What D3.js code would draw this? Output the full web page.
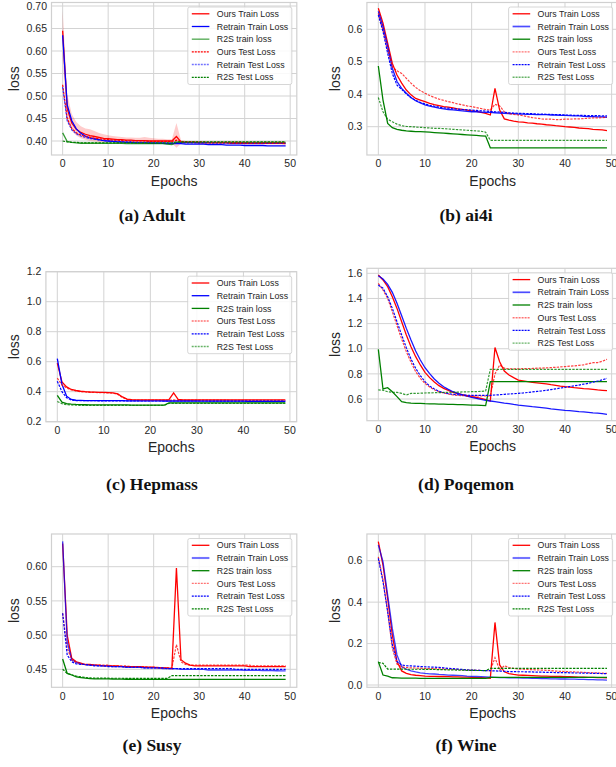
<!DOCTYPE html>
<html lang="en">
<head>
<meta charset="utf-8">
<title>Loss curves</title>
<script src="https://d3js.org/d3.v7.min.js"></script>
<style>
  body { margin: 0; background: #fff; }
  text { font-family: "Liberation Sans", Arial, sans-serif; fill: #262626; }
  .cap { font-family: "Liberation Serif", "Times New Roman", serif; font-weight: bold; fill: #111; }
</style>
</head>
<body>
<script>
// ---- data (epochs 0..49) ----
var epochs = d3.range(0, 50);
var seriesNames = ["Ours Train Loss", "Retrain Train Loss", "R2S train loss", "Ours Test Loss", "Retrain Test Loss", "R2S Test Loss"];
var xTicks = [0, 10, 20, 30, 40, 50];

// (a) Adult
var adultOursTrain = [0.645,0.472,0.440,0.426,0.419,0.415,0.412,0.410,0.408,0.406, 0.405,0.404,0.403,0.403,0.402,0.402,0.401,0.401,0.401,0.400, 0.400,0.400,0.400,0.400,0.400,0.410,0.398,0.397,0.397,0.397, 0.396,0.396,0.396,0.396,0.396,0.396,0.396,0.395,0.395,0.395, 0.395,0.395,0.395,0.395,0.395,0.395,0.395,0.395,0.395,0.394];
var adultRetrainTrain = [0.635,0.480,0.445,0.427,0.417,0.411,0.407,0.405,0.403,0.401, 0.400,0.399,0.398,0.398,0.397,0.397,0.396,0.396,0.396,0.395, 0.395,0.395,0.395,0.394,0.394,0.394,0.394,0.393,0.393,0.393, 0.393,0.393,0.392,0.392,0.392,0.392,0.391,0.391,0.391,0.391, 0.390,0.390,0.390,0.390,0.390,0.389,0.389,0.389,0.389,0.389];
var adultR2STrain = [0.418,0.399,0.397,0.396,0.395,0.395,0.395,0.395,0.395,0.395, 0.395,0.395,0.395,0.395,0.394,0.394,0.394,0.394,0.394,0.394, 0.394,0.394,0.394,0.393,0.392,0.397,0.397,0.397,0.397,0.397, 0.397,0.397,0.397,0.397,0.397,0.397,0.397,0.397,0.397,0.397, 0.397,0.397,0.397,0.397,0.397,0.397,0.397,0.397,0.397,0.397];
var adultOursTest = [0.525,0.450,0.428,0.418,0.413,0.410,0.408,0.406,0.405,0.404, 0.403,0.402,0.402,0.401,0.401,0.400,0.400,0.400,0.400,0.399, 0.399,0.399,0.399,0.399,0.399,0.402,0.399,0.398,0.398,0.398, 0.398,0.398,0.397,0.397,0.397,0.397,0.397,0.397,0.397,0.397, 0.396,0.396,0.396,0.396,0.396,0.396,0.396,0.396,0.396,0.396];
var adultRetrainTest = [0.520,0.445,0.425,0.416,0.411,0.408,0.405,0.404,0.402,0.401, 0.400,0.399,0.399,0.398,0.398,0.398,0.397,0.397,0.397,0.397, 0.396,0.396,0.396,0.396,0.396,0.396,0.396,0.396,0.396,0.396, 0.396,0.396,0.396,0.395,0.395,0.395,0.395,0.395,0.395,0.395, 0.395,0.395,0.395,0.395,0.395,0.395,0.395,0.395,0.395,0.395];
var adultR2STest = [0.400,0.398,0.397,0.397,0.396,0.396,0.396,0.396,0.396,0.396, 0.396,0.396,0.396,0.396,0.396,0.396,0.396,0.396,0.396,0.396, 0.396,0.396,0.396,0.396,0.396,0.398,0.398,0.398,0.398,0.398, 0.398,0.398,0.398,0.398,0.398,0.398,0.398,0.398,0.398,0.398, 0.398,0.398,0.398,0.398,0.398,0.398,0.398,0.398,0.398,0.398];
var adultBandHi = [0.690,0.505,0.460,0.442,0.433,0.428,0.426,0.422,0.418,0.415, 0.413,0.411,0.410,0.409,0.408,0.408,0.407,0.407,0.409,0.407, 0.406,0.405,0.405,0.404,0.404,0.440,0.402,0.400,0.400,0.400, 0.399,0.399,0.399,0.399,0.399,0.399,0.399,0.399,0.399,0.399, 0.399,0.399,0.399,0.399,0.399,0.399,0.399,0.399,0.399,0.399];
var adultBandLo = [0.585,0.445,0.423,0.412,0.406,0.403,0.400,0.399,0.398,0.397, 0.397,0.397,0.396,0.396,0.396,0.396,0.395,0.395,0.394,0.394, 0.394,0.394,0.394,0.395,0.395,0.385,0.394,0.394,0.394,0.393, 0.393,0.393,0.393,0.393,0.393,0.393,0.393,0.393,0.393,0.393, 0.392,0.392,0.392,0.392,0.392,0.392,0.392,0.392,0.392,0.392];
var adultTicks = [0.40, 0.45, 0.50, 0.55, 0.60, 0.65, 0.70];

// (b) ai4i
var ai4iOursTrain = [0.665,0.619,0.557,0.495,0.459,0.434,0.413,0.398,0.387,0.382, 0.377,0.372,0.368,0.365,0.362,0.360,0.358,0.355,0.353,0.351, 0.349,0.347,0.344,0.341,0.336,0.418,0.351,0.324,0.320,0.317, 0.315,0.314,0.312,0.311,0.309,0.308,0.306,0.305,0.303,0.302, 0.300,0.299,0.298,0.296,0.295,0.294,0.292,0.291,0.290,0.288];
var ai4iRetrainTrain = [0.655,0.608,0.547,0.480,0.439,0.418,0.403,0.390,0.380,0.373, 0.367,0.363,0.360,0.357,0.355,0.353,0.352,0.350,0.349,0.347, 0.346,0.346,0.345,0.344,0.344,0.343,0.342,0.341,0.340,0.340, 0.339,0.339,0.338,0.338,0.337,0.337,0.337,0.336,0.336,0.335, 0.335,0.334,0.333,0.333,0.332,0.331,0.331,0.330,0.330,0.329];
var ai4iR2STrain = [0.487,0.382,0.310,0.297,0.292,0.289,0.287,0.286,0.285,0.285, 0.284,0.283,0.282,0.281,0.280,0.279,0.278,0.277,0.276,0.275, 0.274,0.273,0.272,0.271,0.235,0.235,0.235,0.235,0.235,0.235, 0.235,0.235,0.235,0.235,0.235,0.235,0.235,0.235,0.235,0.235, 0.235,0.235,0.235,0.235,0.235,0.235,0.235,0.235,0.235,0.235];
var ai4iOursTest = [0.649,0.598,0.536,0.485,0.472,0.464,0.449,0.434,0.421,0.411, 0.403,0.396,0.390,0.385,0.381,0.377,0.374,0.370,0.367,0.364, 0.362,0.359,0.356,0.353,0.351,0.369,0.364,0.346,0.340,0.338, 0.336,0.334,0.331,0.328,0.326,0.324,0.323,0.323,0.322,0.322, 0.323,0.323,0.324,0.324,0.325,0.326,0.327,0.327,0.328,0.329];
var ai4iRetrainTest = [0.644,0.593,0.526,0.464,0.428,0.415,0.401,0.389,0.381,0.375, 0.370,0.366,0.363,0.360,0.358,0.357,0.355,0.354,0.353,0.352, 0.351,0.350,0.349,0.348,0.347,0.346,0.345,0.344,0.343,0.342, 0.341,0.341,0.340,0.340,0.339,0.339,0.338,0.338,0.337,0.337, 0.336,0.336,0.335,0.335,0.335,0.334,0.334,0.334,0.333,0.333];
var ai4iR2STest = [0.390,0.346,0.323,0.315,0.308,0.303,0.301,0.300,0.299,0.298, 0.297,0.296,0.295,0.295,0.294,0.293,0.292,0.291,0.290,0.289, 0.288,0.287,0.286,0.283,0.258,0.258,0.258,0.258,0.258,0.258, 0.258,0.258,0.258,0.258,0.258,0.258,0.258,0.258,0.258,0.258, 0.258,0.258,0.258,0.258,0.258,0.258,0.258,0.258,0.258,0.258];
var ai4iTicks = [0.3, 0.4, 0.5, 0.6];

// (c) Hepmass
var hepOursTrain = [0.590,0.465,0.432,0.415,0.408,0.403,0.400,0.398,0.397,0.396, 0.395,0.394,0.392,0.385,0.365,0.350,0.347,0.346,0.346,0.346, 0.346,0.346,0.346,0.346,0.347,0.392,0.348,0.346,0.346,0.346, 0.346,0.346,0.346,0.345,0.345,0.345,0.345,0.345,0.345,0.345, 0.345,0.345,0.345,0.345,0.345,0.345,0.345,0.345,0.345,0.345];
var hepRetrainTrain = [0.620,0.450,0.370,0.348,0.343,0.342,0.341,0.341,0.340,0.340, 0.340,0.340,0.340,0.340,0.340,0.339,0.339,0.339,0.339,0.339, 0.339,0.339,0.339,0.338,0.338,0.338,0.338,0.338,0.338,0.338, 0.338,0.337,0.337,0.337,0.337,0.337,0.337,0.337,0.337,0.337, 0.337,0.336,0.336,0.336,0.336,0.336,0.336,0.336,0.336,0.336];
var hepR2STrain = [0.375,0.330,0.320,0.317,0.315,0.314,0.313,0.312,0.312,0.312, 0.312,0.312,0.312,0.312,0.312,0.312,0.311,0.311,0.311,0.311, 0.311,0.311,0.311,0.311,0.325,0.326,0.326,0.326,0.326,0.326, 0.326,0.326,0.326,0.326,0.326,0.326,0.326,0.326,0.326,0.326, 0.326,0.326,0.326,0.326,0.326,0.326,0.326,0.326,0.326,0.326];
var hepOursTest = [0.490,0.445,0.425,0.412,0.405,0.400,0.398,0.396,0.395,0.394, 0.393,0.392,0.390,0.382,0.362,0.348,0.345,0.344,0.344,0.344, 0.344,0.344,0.344,0.344,0.344,0.345,0.344,0.344,0.344,0.344, 0.344,0.344,0.344,0.344,0.344,0.344,0.344,0.343,0.343,0.343, 0.343,0.343,0.343,0.343,0.343,0.343,0.343,0.343,0.343,0.343];
var hepRetrainTest = [0.470,0.400,0.360,0.345,0.341,0.340,0.340,0.340,0.340,0.339, 0.339,0.339,0.339,0.339,0.339,0.339,0.339,0.339,0.338,0.338, 0.338,0.338,0.338,0.338,0.338,0.338,0.338,0.338,0.338,0.338, 0.338,0.338,0.338,0.337,0.337,0.337,0.337,0.337,0.337,0.337, 0.337,0.337,0.337,0.337,0.337,0.337,0.337,0.337,0.337,0.337];
var hepR2STest = [0.335,0.320,0.314,0.312,0.310,0.309,0.309,0.309,0.309,0.309, 0.309,0.309,0.309,0.309,0.309,0.309,0.309,0.309,0.309,0.309, 0.309,0.309,0.309,0.309,0.322,0.322,0.322,0.322,0.322,0.322, 0.322,0.322,0.322,0.322,0.322,0.322,0.322,0.322,0.322,0.322, 0.322,0.322,0.322,0.322,0.322,0.322,0.322,0.322,0.322,0.322];
var hepTicks = [0.2, 0.4, 0.6, 0.8, 1.0, 1.2];

// (d) Poqemon
var poqOursTrain = [1.587,1.547,1.494,1.414,1.321,1.215,1.109,1.016,0.937,0.871, 0.812,0.770,0.735,0.706,0.685,0.669,0.653,0.642,0.634,0.626, 0.619,0.612,0.605,0.595,0.584,1.010,0.897,0.823,0.791,0.770, 0.751,0.745,0.738,0.733,0.729,0.725,0.720,0.714,0.709,0.703, 0.698,0.694,0.690,0.687,0.683,0.680,0.676,0.672,0.669,0.666];
var poqRetrainTrain = [1.581,1.555,1.512,1.449,1.361,1.263,1.162,1.069,0.982,0.910, 0.849,0.802,0.759,0.725,0.698,0.677,0.658,0.645,0.632,0.622, 0.613,0.605,0.597,0.590,0.584,0.579,0.574,0.568,0.563,0.557, 0.552,0.548,0.544,0.539,0.535,0.531,0.527,0.522,0.518,0.514, 0.510,0.507,0.504,0.500,0.497,0.494,0.490,0.487,0.483,0.478];
var poqR2STrain = [0.995,0.680,0.690,0.658,0.619,0.579,0.571,0.568,0.566,0.565, 0.563,0.562,0.561,0.560,0.559,0.558,0.557,0.556,0.555,0.554, 0.552,0.551,0.549,0.547,0.738,0.738,0.738,0.738,0.738,0.738, 0.738,0.738,0.738,0.738,0.738,0.738,0.738,0.738,0.738,0.738, 0.738,0.738,0.738,0.738,0.738,0.738,0.738,0.738,0.738,0.738];
var poqOursTest = [1.520,1.467,1.401,1.295,1.184,1.077,0.977,0.892,0.818,0.764, 0.725,0.695,0.674,0.658,0.648,0.640,0.632,0.629,0.627,0.625, 0.624,0.624,0.624,0.624,0.624,0.800,0.870,0.845,0.840,0.840, 0.840,0.841,0.842,0.843,0.845,0.846,0.848,0.850,0.852,0.855, 0.858,0.861,0.864,0.868,0.872,0.880,0.889,0.890,0.900,0.916];
var poqRetrainTest = [1.507,1.481,1.414,1.321,1.215,1.109,1.008,0.918,0.844,0.786, 0.738,0.703,0.680,0.661,0.650,0.642,0.637,0.634,0.632,0.630, 0.629,0.629,0.629,0.629,0.629,0.632,0.634,0.637,0.640,0.642, 0.645,0.648,0.652,0.656,0.660,0.664,0.669,0.675,0.681,0.687, 0.693,0.699,0.705,0.711,0.718,0.725,0.734,0.743,0.753,0.764];
var poqR2STest = [0.672,0.670,0.658,0.653,0.653,0.645,0.632,0.645,0.645,0.646, 0.648,0.649,0.650,0.651,0.652,0.653,0.654,0.655,0.656,0.657, 0.658,0.659,0.661,0.664,0.836,0.836,0.836,0.836,0.836,0.836, 0.836,0.836,0.836,0.836,0.836,0.836,0.836,0.836,0.836,0.836, 0.836,0.836,0.836,0.836,0.836,0.836,0.836,0.836,0.836,0.836];
var poqTicks = [0.6, 0.8, 1.0, 1.2, 1.4, 1.6];

// (e) Susy
var susyOursTrain = [0.634,0.500,0.466,0.461,0.459,0.457,0.457,0.456,0.456,0.455, 0.455,0.455,0.455,0.454,0.454,0.454,0.454,0.454,0.453,0.453, 0.453,0.452,0.452,0.452,0.451,0.598,0.464,0.459,0.456,0.455, 0.455,0.455,0.455,0.455,0.455,0.455,0.455,0.455,0.455,0.455, 0.455,0.454,0.454,0.454,0.454,0.454,0.454,0.454,0.454,0.454];
var susyRetrainTrain = [0.637,0.490,0.464,0.460,0.458,0.457,0.456,0.456,0.455,0.455, 0.455,0.454,0.454,0.454,0.453,0.453,0.453,0.453,0.452,0.452, 0.452,0.452,0.451,0.451,0.451,0.451,0.450,0.450,0.450,0.450, 0.450,0.450,0.449,0.449,0.449,0.449,0.449,0.449,0.449,0.449, 0.4485,0.4485,0.4485,0.4483,0.4482,0.4481,0.4480,0.4479,0.4478,0.4476];
var susyR2STrain = [0.465,0.444,0.4417,0.439,0.438,0.437,0.4365,0.436,0.436,0.436, 0.436,0.4358,0.4357,0.4356,0.4355,0.4355,0.4354,0.4354,0.4354,0.4354, 0.4354,0.4354,0.4354,0.4354,0.4354,0.4354,0.4354,0.4354,0.4354,0.4354, 0.4354,0.4354,0.4354,0.4354,0.4354,0.4354,0.4354,0.4354,0.4354,0.4354, 0.4354,0.4354,0.4354,0.4354,0.4354,0.4354,0.4354,0.4354,0.4354,0.4354];
var susyOursTest = [0.532,0.481,0.464,0.460,0.458,0.457,0.457,0.456,0.456,0.456, 0.456,0.455,0.455,0.455,0.455,0.454,0.454,0.454,0.454,0.453, 0.453,0.453,0.452,0.452,0.452,0.486,0.461,0.457,0.456,0.456, 0.456,0.456,0.456,0.456,0.456,0.456,0.456,0.456,0.456,0.456, 0.456,0.456,0.455,0.455,0.455,0.455,0.455,0.455,0.455,0.455];
var susyRetrainTest = [0.532,0.471,0.461,0.458,0.457,0.457,0.456,0.455,0.455,0.455, 0.454,0.454,0.454,0.454,0.453,0.453,0.453,0.453,0.452,0.452, 0.452,0.452,0.452,0.451,0.451,0.451,0.451,0.451,0.451,0.451, 0.451,0.451,0.451,0.451,0.451,0.451,0.451,0.451,0.450,0.450, 0.450,0.450,0.450,0.450,0.450,0.450,0.450,0.450,0.450,0.450];
var susyR2STest = [0.450,0.444,0.442,0.440,0.439,0.438,0.4375,0.437,0.437,0.437, 0.437,0.4369,0.4369,0.4369,0.4368,0.4368,0.4368,0.4368,0.4368,0.4368, 0.4368,0.4368,0.4368,0.4368,0.4407,0.4407,0.4407,0.4407,0.4407,0.4407, 0.4407,0.4407,0.4407,0.4407,0.4407,0.4407,0.4407,0.4407,0.4407,0.4407, 0.4407,0.4407,0.4407,0.4407,0.4407,0.4407,0.4407,0.4407,0.4407,0.4407];
var susyTicks = [0.45, 0.50, 0.55, 0.60];

// (f) Wine
var wineOursTrain = [0.692,0.579,0.418,0.241,0.113,0.068,0.056,0.050,0.047,0.045, 0.043,0.042,0.042,0.041,0.041,0.040,0.039,0.039,0.038,0.038, 0.037,0.036,0.035,0.034,0.032,0.302,0.097,0.064,0.055,0.051, 0.048,0.047,0.046,0.045,0.044,0.043,0.043,0.042,0.042,0.041, 0.040,0.040,0.039,0.038,0.038,0.037,0.037,0.036,0.036,0.035];
var wineRetrainTrain = [0.676,0.595,0.434,0.273,0.145,0.088,0.076,0.068,0.063,0.059, 0.056,0.054,0.053,0.051,0.050,0.048,0.047,0.046,0.045,0.043, 0.042,0.041,0.040,0.039,0.038,0.037,0.036,0.036,0.035,0.035, 0.034,0.033,0.033,0.032,0.032,0.031,0.031,0.030,0.030,0.029, 0.029,0.028,0.028,0.027,0.027,0.026,0.026,0.025,0.025,0.024];
var wineR2STrain = [0.113,0.048,0.043,0.035,0.034,0.033,0.033,0.033,0.033,0.032, 0.032,0.032,0.032,0.032,0.032,0.032,0.032,0.032,0.032,0.032, 0.032,0.032,0.032,0.032,0.037,0.037,0.037,0.037,0.037,0.037, 0.037,0.037,0.037,0.037,0.037,0.037,0.037,0.037,0.037,0.037, 0.037,0.037,0.037,0.037,0.037,0.037,0.037,0.037,0.037,0.037];
var wineOursTest = [0.619,0.507,0.354,0.177,0.101,0.088,0.084,0.083,0.082,0.081, 0.080,0.079,0.079,0.078,0.078,0.077,0.076,0.075,0.074,0.073, 0.072,0.071,0.070,0.070,0.069,0.132,0.072,0.093,0.084,0.080, 0.077,0.076,0.075,0.074,0.073,0.072,0.071,0.070,0.067,0.066, 0.065,0.064,0.063,0.062,0.061,0.060,0.059,0.058,0.057,0.056];
var wineRetrainTest = [0.611,0.499,0.354,0.193,0.113,0.097,0.093,0.092,0.091,0.089, 0.088,0.087,0.086,0.085,0.083,0.080,0.079,0.077,0.075,0.073, 0.072,0.071,0.070,0.069,0.069,0.068,0.067,0.066,0.065,0.065, 0.064,0.064,0.063,0.063,0.062,0.062,0.061,0.061,0.060,0.060, 0.060,0.059,0.058,0.058,0.057,0.057,0.056,0.056,0.055,0.055];
var wineR2STest = [0.108,0.105,0.077,0.077,0.077,0.077,0.076,0.076,0.076,0.076, 0.075,0.075,0.075,0.074,0.074,0.073,0.073,0.072,0.072,0.071, 0.071,0.070,0.070,0.069,0.080,0.080,0.080,0.080,0.080,0.080, 0.080,0.080,0.080,0.080,0.080,0.080,0.080,0.080,0.080,0.080, 0.080,0.080,0.080,0.080,0.080,0.080,0.080,0.080,0.080,0.080];
var wineTicks = [0.0, 0.2, 0.4, 0.6];

// ---- layout ----
var W = 616, H = 767;
var colors = ["#ff0000", "#0000ff", "#008000", "#ff0000", "#0000ff", "#008000"];
var dashed = [false, false, false, true, true, true];

var panels = [
  { caption: "(a) Adult", left: 51.5, right: 296.8, top: 2.5, bottom: 155, yDom: [0.3689, 0.7078], ticks: adultTicks, fmt: ".2f", capX: 152, capY: 221,
    data: [adultOursTrain, adultRetrainTrain, adultR2STrain, adultOursTest, adultRetrainTest, adultR2STest],
    light: { 2: [0.6, 1.5], 4: [0.55, 1.5] }, band: [adultBandLo, adultBandHi] },
  { caption: "(b) ai4i", left: 366.9, right: 618.4, top: 2.5, bottom: 155, yDom: [0.2128, 0.6825], ticks: ai4iTicks, fmt: ".1f", capX: 466, capY: 221,
    data: [ai4iOursTrain, ai4iRetrainTrain, ai4iR2STrain, ai4iOursTest, ai4iRetrainTest, ai4iR2STest],
    light: { 1: [0.7, 1.7], 3: [0.55, 1.4], 5: [0.6, 1.4] } },
  { caption: "(c) Hepmass", left: 45.9, right: 296.7, top: 271.7, bottom: 421.7, yDom: [0.2, 1.2], ticks: hepTicks, fmt: ".1f", capX: 152, capY: 490,
    data: [hepOursTrain, hepRetrainTrain, hepR2STrain, hepOursTest, hepRetrainTest, hepR2STest],
    light: { 3: [0.55, 1.5], 5: [0.6, 1.5] } },
  { caption: "(d) Poqemon", left: 366.9, right: 618.4, top: 268.3, bottom: 420.7, yDom: [0.4274, 1.64], ticks: poqTicks, fmt: ".1f", capX: 466, capY: 490,
    data: [poqOursTrain, poqRetrainTrain, poqR2STrain, poqOursTest, poqRetrainTest, poqR2STest],
    light: { 1: [0.7, 1.7], 3: [0.55, 1.4], 5: [0.6, 1.4] } },
  { caption: "(e) Susy", left: 51.5, right: 296.8, top: 534, bottom: 687.3, yDom: [0.4237, 0.6478], ticks: susyTicks, fmt: ".2f", capX: 152, capY: 751,
    data: [susyOursTrain, susyRetrainTrain, susyR2STrain, susyOursTest, susyRetrainTest, susyR2STest],
    light: { 1: [0.55, 2.1], 3: [0.55, 1.4] } },
  { caption: "(f) Wine", left: 366.9, right: 618.4, top: 534, bottom: 687.3, yDom: [-0.0111, 0.7289], ticks: wineTicks, fmt: ".1f", capX: 466, capY: 751,
    data: [wineOursTrain, wineRetrainTrain, wineR2STrain, wineOursTest, wineRetrainTest, wineR2STest],
    light: { 1: [0.55, 2.1], 3: [0.55, 1.4] } }
];

var svg = d3.select("body").append("svg")
  .attr("width", W)
  .attr("height", H)
  .style("display", "block");

svg.append("rect").attr("width", W).attr("height", H).attr("fill", "#fff");

panels.forEach(function (p, pi) {
  var x = d3.scaleLinear().domain([-2.45, 51.45]).range([p.left, p.right]);
  var y = d3.scaleLinear().domain(p.yDom).range([p.bottom, p.top]);
  var g = svg.append("g");

  // clip
  var cid = "clip" + pi;
  g.append("clipPath").attr("id", cid)
    .append("rect")
    .attr("x", p.left).attr("y", p.top)
    .attr("width", p.right - p.left).attr("height", p.bottom - p.top);

  // grid
  g.append("g").selectAll("line").data(xTicks).enter().append("line")
    .attr("x1", function (d) { return x(d); }).attr("x2", function (d) { return x(d); })
    .attr("y1", p.top).attr("y2", p.bottom)
    .attr("stroke", "#d3d3d3").attr("stroke-width", 1);
  g.append("g").selectAll("line").data(p.ticks).enter().append("line")
    .attr("x1", p.left).attr("x2", p.right)
    .attr("y1", function (d) { return y(d); }).attr("y2", function (d) { return y(d); })
    .attr("stroke", "#d3d3d3").attr("stroke-width", 1);

  // frame
  g.append("rect")
    .attr("x", p.left).attr("y", p.top)
    .attr("width", p.right - p.left).attr("height", p.bottom - p.top)
    .attr("fill", "none").attr("stroke", "#d0d0d0").attr("stroke-width", 1.2);

  // tick labels
  g.append("g").selectAll("text").data(xTicks).enter().append("text")
    .attr("x", function (d) { return x(d); })
    .attr("y", p.bottom + 12.3)
    .attr("text-anchor", "middle")
    .style("font-size", "10.5px")
    .text(function (d) { return d; });
  var yt = g.append("g");
  yt.selectAll("text").data(p.ticks).enter().append("text")
    .attr("x", p.left - 4.5)
    .attr("y", function (d) { return y(d) + 3.7; })
    .attr("text-anchor", "end")
    .style("font-size", "10.5px")
    .text(function (d) { return d3.format(p.fmt)(d); });

  // axis labels
  g.append("text")
    .attr("x", (p.left + p.right) / 2)
    .attr("y", p.bottom + 30.5)
    .attr("text-anchor", "middle")
    .style("font-size", "14px")
    .text("Epochs");
  var tb = yt.node().getBBox();
  g.append("text")
    .attr("transform", "translate(" + (tb.x - 8) + "," + ((p.top + p.bottom) / 2) + ") rotate(-90)")
    .attr("text-anchor", "middle")
    .style("font-size", "14px")
    .text("loss");

  var plot = g.append("g").attr("clip-path", "url(#" + cid + ")");

  // confidence band
  if (p.band) {
    var area = d3.area()
      .x(function (d, i) { return x(epochs[i]); })
      .y0(function (d, i) { return y(p.band[0][i]); })
      .y1(function (d, i) { return y(p.band[1][i]); });
    plot.append("path").datum(epochs).attr("d", area)
      .attr("fill", "#ff0000").attr("fill-opacity", 0.2);
  }

  var line = d3.line()
    .x(function (d, i) { return x(epochs[i]); })
    .y(function (d) { return y(d); });

  p.data.forEach(function (s, k) {
    var lt = p.light[k];
    plot.append("path").datum(s).attr("d", line)
      .attr("fill", "none")
      .attr("stroke", colors[k])
      .attr("stroke-opacity", lt ? lt[0] + 0.2 : 1)
      .attr("stroke-width", dashed[k] ? 1.2 : 1.3)
      .attr("stroke-dasharray", dashed[k] ? "2.4,1.2" : null);
  });

  // legend
  var lw = 104, lh = 77.5;
  var lx = p.right - 5 - lw - (p.right > 600 ? 0.8 : 0);
  var ly = p.top + 4.5;
  var lg = g.append("g");
  lg.append("rect")
    .attr("x", lx).attr("y", ly).attr("width", lw).attr("height", lh)
    .attr("rx", 2).attr("fill", "#fff").attr("fill-opacity", 0.85)
    .attr("stroke", "#cccccc").attr("stroke-width", 0.8);
  seriesNames.forEach(function (name, k) {
    var cy = ly + 6.8 + k * 12.7;
    var lt = p.light[k];
    lg.append("line")
      .attr("x1", lx + 4).attr("x2", lx + 21.6)
      .attr("y1", cy).attr("y2", cy)
      .attr("stroke", colors[k])
      .attr("stroke-opacity", lt ? lt[0] : 1)
      .attr("stroke-width", lt ? lt[1] : (dashed[k] ? 1.2 : 1.3))
      .attr("stroke-dasharray", dashed[k] ? "2,1" : null);
    lg.append("text")
      .attr("x", lx + 29).attr("y", cy + 3.1)
      .style("font-size", "8.8px")
      .text(name);
  });

  // caption
  svg.append("text").attr("class", "cap")
    .attr("x", p.capX).attr("y", p.capY)
    .attr("text-anchor", "middle")
    .style("font-size", "17.5px")
    .text(p.caption);
});
</script>
</body>
</html>
